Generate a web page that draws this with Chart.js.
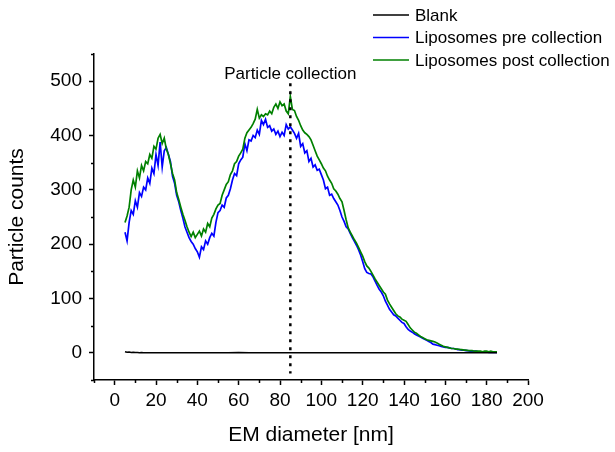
<!DOCTYPE html>
<html><head><meta charset="utf-8">
<script src="https://cdn.jsdelivr.net/npm/chart.js@4.4.1/dist/chart.umd.min.js"></script>
<style>html,body{margin:0;padding:0;background:#fff;} canvas{display:block;}</style>
</head><body>
<canvas id="c" width="615" height="452"></canvas>
<script>
const diameters = [5,6,7,8,9,10,11,12,13,14,15,16,17,18,19,20,21,22,23,24,25,26,27,28,29,30,31,32,33,34,35,36,37,38,39,40,41,42,43,44,45,46,47,48,49,50,51,52,53,54,55,56,57,58,59,60,61,62,63,64,65,66,67,68,69,70,71,72,73,74,75,76,77,78,79,80,81,82,83,84,85,86,87,88,89,90,91,92,93,94,95,96,97,98,99,100,101,102,103,104,105,106,107,108,109,110,111,112,113,114,115,116,117,118,119,120,121,122,123,124,125,126,127,128,129,130,131,132,133,134,135,136,137,138,139,140,141,142,143,144,145,146,147,148,149,150,151,152,153,154,155,156,157,158,159,160,161,162,163,164,165,166,167,168,169,170,171,172,173,174,175,176,177,178,179,180,181,182,183,184,185];

const preCollection = [222,206,240,262,255,280,268,295,288,305,300,322,312,340,330,365,345,388,342,372,378,365,352,325,312,290,278,262,248,232,222,212,205,200,192,186,176,195,190,206,200,212,220,215,240,258,262,272,268,285,290,302,318,330,326,348,355,360,385,372,392,390,400,396,410,402,428,420,430,415,418,408,412,402,408,398,406,400,420,412,416,410,404,395,404,380,385,368,372,352,358,342,346,336,338,328,318,302,305,290,292,284,278,272,262,250,242,232,228,220,212,205,198,190,180,168,155,148,146,145,140,132,124,117,112,105,95,88,80,75,70,68,64,60,56,54,48,43,40,38,35,33,31,29,27,25,23,21,19,16,15,14,13,12,11,10,10,9,8,8,7,6,6,5,5,4,4,3,3,3,3,2,2,2,2,2,1,1,1,1,1];

const postCollection = [240,252,268,300,318,305,335,322,345,335,352,348,365,358,380,375,395,402,385,395,375,365,348,330,318,295,282,268,255,244,232,222,214,222,212,218,224,215,228,222,238,232,248,255,265,272,275,290,300,310,315,328,335,348,352,362,368,375,395,405,410,415,422,430,448,432,438,435,440,438,445,440,452,458,450,462,455,458,445,440,472,448,446,435,428,418,410,405,402,398,392,382,372,362,355,348,340,335,325,318,312,302,298,292,284,278,262,245,230,222,215,208,202,194,186,178,168,160,156,150,143,136,130,124,118,112,108,97,90,84,78,72,68,66,62,60,58,52,46,42,38,36,33,30,28,26,24,23,22,21,20,18,16,14,12,11,10,9,8,8,7,7,6,6,5,5,4,4,4,3,3,3,3,2,3,3,2,3,2,2,2];

const blankDiameters = [5,6,7,8,9,10,11,12,13,14,15,20,25,30,35,40,45,50,55,60,65,70,75,80,85,90,95,100,105,110,115,120,125,130,135,140,145,150,155,160,165,170,175,180,185];
const blankCounts = [2,1,1.5,0.5,1,0.5,0.8,0.3,0.5,0.2,0,0,0,0,0,0,0,0,0,0.5,0,0,0,0,0,0,0,0,0,0,0,0,0,0,0,0,0,0,0,0,0,0,0,0,0];

const seriesLabels = ['Blank', 'Liposomes pre collection', 'Liposomes post collection'];
const seriesColors = ['#000000', '#0000FF', '#008000'];
const xTicks = [0,20,40,60,80,100,120,140,160,180,200];
const yTicks = [0,100,200,300,400,500];
const xMinorTicks = [-10,10,30,50,70,90,110,130,150,170,190];
const yMinorTicks = [-50,50,150,250,350,450,550];
const collectionDiameter = 85;
const collectionLineRange = [-38, 496];
const collectionLabel = 'Particle collection';
const xTitle = 'EM diameter [nm]';
const yTitle = 'Particle counts';

const FAMILY = '"Liberation Sans", Arial, sans-serif';

const toPoints = (xs, ys) => xs.map((x, i) => ({x: x, y: ys[i]}));

const extrasPlugin = {
  id: 'extras',
  afterDatasetsDraw(chart) {
    const ctx = chart.ctx;
    const xs = chart.scales.x, ys = chart.scales.y;
    const px = xs.getPixelForValue(collectionDiameter);
    ctx.save();
    ctx.strokeStyle = '#000';
    ctx.lineWidth = 2.5;
    ctx.setLineDash([3, 5]);
    ctx.beginPath();
    ctx.moveTo(px, ys.getPixelForValue(collectionLineRange[1]));
    ctx.lineTo(px, ys.getPixelForValue(collectionLineRange[0]));
    ctx.stroke();
    ctx.setLineDash([]);
    ctx.fillStyle = '#000';
    ctx.font = '17px ' + FAMILY;
    ctx.textAlign = 'center';
    ctx.textBaseline = 'alphabetic';
    ctx.fillText(collectionLabel, px, 79);
    ctx.restore();
  },
  afterDraw(chart) {
    const ctx = chart.ctx;
    const xs = chart.scales.x, ys = chart.scales.y;
    const area = chart.chartArea;
    ctx.save();
    ctx.strokeStyle = '#000';
    ctx.lineWidth = 1.5;
    ctx.beginPath();
    xMinorTicks.forEach(v => {
      const p = Math.round(xs.getPixelForValue(v)) + 0.5;
      ctx.moveTo(p, area.bottom);
      ctx.lineTo(p, area.bottom + 3);
    });
    yMinorTicks.forEach(v => {
      const p = Math.round(ys.getPixelForValue(v)) + 0.5;
      ctx.moveTo(area.left, p);
      ctx.lineTo(area.left - 3, p);
    });
    ctx.stroke();
    const rows = [15, 37.5, 60];
    ctx.font = '17px ' + FAMILY;
    ctx.textAlign = 'left';
    ctx.textBaseline = 'middle';
    chart.data.datasets.forEach((ds, i) => {
      ctx.strokeStyle = ds.borderColor;
      ctx.lineWidth = 1.5;
      ctx.beginPath();
      ctx.moveTo(373, rows[i]);
      ctx.lineTo(409, rows[i]);
      ctx.stroke();
      ctx.fillStyle = '#000';
      ctx.fillText(ds.label, 415, rows[i] + 1);
    });
    ctx.restore();
  }
};

new Chart(document.getElementById('c'), {
  type: 'line',
  data: {
    datasets: [
      {label: seriesLabels[0], data: toPoints(blankDiameters, blankCounts), borderColor: seriesColors[0], borderWidth: 1.5, pointRadius: 0, tension: 0, order: 0},
      {label: seriesLabels[1], data: toPoints(diameters, preCollection), borderColor: seriesColors[1], borderWidth: 1.7, pointRadius: 0, tension: 0, order: 2},
      {label: seriesLabels[2], data: toPoints(diameters, postCollection), borderColor: seriesColors[2], borderWidth: 1.7, pointRadius: 0, tension: 0, order: 1}
    ]
  },
  options: {
    responsive: false,
    animation: false,
    events: [],
    layout: {padding: {left: 0, right: 87, top: 54, bottom: 0}},
    plugins: {legend: {display: false}, tooltip: {enabled: false}},
    scales: {
      x: {
        type: 'linear', min: -10, max: 200,
        afterBuildTicks: s => { s.ticks = xTicks.map(v => ({value: v})); },
        afterFit: s => { s.height = 72; },
        grid: {display: true, drawOnChartArea: false, drawTicks: true, tickLength: 5, tickColor: '#000', tickWidth: 1.5},
        border: {display: true, color: '#000', width: 1.5},
        ticks: {color: '#000', font: {family: FAMILY, size: 19}, padding: 4, maxRotation: 0, autoSkip: false},
        title: {display: true, text: xTitle, color: '#000', font: {family: FAMILY, size: 21}, padding: {top: 0, bottom: 4}}
      },
      y: {
        type: 'linear', min: -50, max: 550,
        afterBuildTicks: s => { s.ticks = yTicks.map(v => ({value: v})); },
        afterFit: s => { s.width = 94; },
        grid: {display: true, drawOnChartArea: false, drawTicks: true, tickLength: 5, tickColor: '#000', tickWidth: 1.5},
        border: {display: true, color: '#000', width: 1.5},
        ticks: {color: '#000', font: {family: FAMILY, size: 19}, padding: 7, autoSkip: false},
        title: {display: true, text: yTitle, color: '#000', font: {family: FAMILY, size: 21}, padding: {top: 5, bottom: 0}}
      }
    }
  },
  plugins: [extrasPlugin]
});
</script>
</body></html>
